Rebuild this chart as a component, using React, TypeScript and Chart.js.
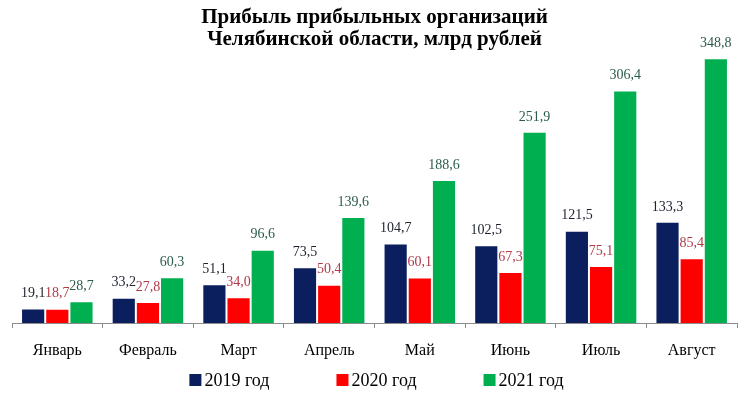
import React, { useEffect, useRef } from "react";
import { Chart, registerables } from "chart.js";

Chart.register(...registerables);

const categories = ["Январь", "Февраль", "Март", "Апрель", "Май", "Июнь", "Июль", "Август"];
const values2019 = [19.1, 33.2, 51.1, 73.5, 104.7, 102.5, 121.5, 133.3];
const values2020 = [18.7, 27.8, 34.0, 50.4, 60.1, 67.3, 75.1, 85.4];
const values2021 = [28.7, 60.3, 96.6, 139.6, 188.6, 251.9, 306.4, 348.8];
const seriesNames = ["2019 год", "2020 год", "2021 год"];
const barColors = ["#0b1f5e", "#ff0000", "#00b050"];
const labelColors = ["#1e2230", "#b03a48", "#2b5c4c"];
const titleLines = ["Прибыль прибыльных организаций", "Челябинской области, млрд рублей"];

const SERIF = "'Liberation Serif', 'Times New Roman', serif";

const fmt = (v: number) => v.toFixed(1).replace(".", ",");

const valueLabelsPlugin = {
  id: "valueLabels",
  afterDatasetsDraw(chart: any) {
    const ctx = chart.ctx;
    ctx.save();
    ctx.font = `14px ${SERIF}`;
    ctx.textAlign = "center";
    ctx.textBaseline = "middle";
    chart.data.datasets.forEach((ds: any, i: number) => {
      const meta = chart.getDatasetMeta(i);
      ctx.fillStyle = labelColors[i];
      meta.data.forEach((bar: any, j: number) => {
        ctx.fillText(fmt(ds.data[j]), bar.x, bar.y - 15);
      });
    });
    ctx.restore();
  },
};

const customLegendPlugin = {
  id: "customLegend",
  afterDraw(chart: any) {
    const ctx = chart.ctx;
    ctx.save();
    ctx.font = `18px ${SERIF}`;
    ctx.textBaseline = "middle";
    const box = 12;
    const gapBoxText = 3;
    const gapItems = 67;
    const widths = seriesNames.map((n) => box + gapBoxText + ctx.measureText(n).width);
    const total = widths.reduce((a, b) => a + b, 0) + gapItems * (widths.length - 1);
    const cx = (chart.chartArea.left + chart.chartArea.right) / 2;
    let x = cx - total / 2 + 2;
    const y = chart.chartArea.bottom + 57;
    seriesNames.forEach((n, i) => {
      ctx.fillStyle = barColors[i];
      ctx.fillRect(x, y - box / 2, box, box);
      ctx.fillStyle = "#000";
      ctx.fillText(n, x + box + gapBoxText, y + 1);
      x += widths[i] + gapItems;
    });
    ctx.restore();
  },
};

export default function App() {
  const canvasRef = useRef<HTMLCanvasElement | null>(null);

  useEffect(() => {
    if (!canvasRef.current) return;
    const datasets = [values2019, values2020, values2021].map((vals, i) => ({
      label: seriesNames[i],
      data: vals,
      backgroundColor: barColors[i],
      borderColor: "#ffffff",
      borderWidth: 1,
      categoryPercentage: 0.8,
      barPercentage: 1.0,
    }));
    const chart = new Chart(canvasRef.current, {
      type: "bar",
      data: { labels: categories, datasets },
      options: {
        animation: false,
        responsive: false,
        maintainAspectRatio: false,
        layout: { padding: { left: 12, right: 11, top: 0, bottom: 0 } },
        plugins: {
          legend: { display: false },
          tooltip: { enabled: false },
          title: {
            display: true,
            text: titleLines,
            color: "#000",
            font: { family: SERIF, size: 21, weight: "bold", lineHeight: 1.02 },
            padding: { top: 7, bottom: 0 },
          },
        },
        scales: {
          x: {
            grid: {
              display: true,
              drawOnChartArea: false,
              drawTicks: true,
              tickLength: 5,
              color: "#8c8c8c",
              offset: true,
            },
            border: { display: true, color: "#8c8c8c" },
            ticks: {
              color: "#000",
              font: { family: SERIF, size: 16 },
              padding: 13,
            },
            afterFit: (scale: any) => {
              scale.height = 76;
            },
          },
          y: {
            display: false,
            min: 0,
            max: 360,
          },
        },
      },
      plugins: [valueLabelsPlugin, customLegendPlugin],
    });
    return () => chart.destroy();
  }, []);

  return (
    <div style={{ position: "fixed", left: 0, top: 0, width: 748, height: 399, background: "#fff" }}>
      <canvas ref={canvasRef} width={748} height={399} style={{ display: "block" }} />
    </div>
  );
}
